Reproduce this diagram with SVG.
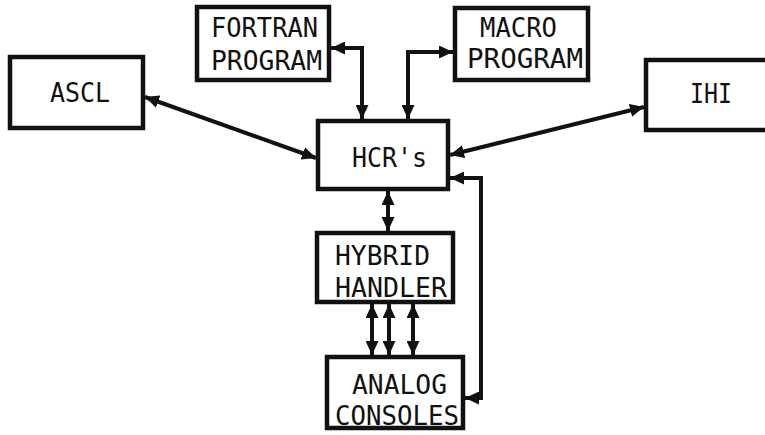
<svg xmlns="http://www.w3.org/2000/svg" width="765" height="435" viewBox="0 0 765 435">
<style>
.box{fill:#fff;stroke:#111;stroke-width:4.5}
.t{font-family:"DejaVu Sans Mono","Liberation Mono",monospace;font-size:27px;fill:#111}
.c{fill:none;stroke:#111;stroke-width:4;marker-start:url(#ah);marker-end:url(#ah)}
</style>
<defs>
<marker id="ah" markerUnits="userSpaceOnUse" markerWidth="15" markerHeight="13" refX="14" refY="6.5" orient="auto-start-reverse">
<path d="M0,0 L14,6.5 L0,13 z" fill="#111"/>
</marker>
</defs>
<rect width="765" height="435" fill="#fff"/>
<g id="fortran">
<rect class="box" x="197" y="7" width="132" height="73"/>
<text class="t" x="211" y="37" textLength="107" lengthAdjust="spacingAndGlyphs">FORTRAN</text>
<text class="t" x="211" y="70" textLength="111" lengthAdjust="spacingAndGlyphs">PROGRAM</text>
</g>
<g id="macro">
<rect class="box" x="455" y="8" width="133" height="72"/>
<text class="t" x="480" y="37" textLength="77" lengthAdjust="spacingAndGlyphs">MACRO</text>
<text class="t" x="467" y="68" textLength="116" lengthAdjust="spacingAndGlyphs">PROGRAM</text>
</g>
<g id="ascl">
<rect class="box" x="10" y="57" width="133" height="71"/>
<text class="t" x="50" y="102" textLength="60" lengthAdjust="spacingAndGlyphs">ASCL</text>
</g>
<g id="ihi">
<rect class="box" x="646" y="60" width="125" height="70"/>
<text class="t" x="690" y="103" textLength="42" lengthAdjust="spacingAndGlyphs">IHI</text>
</g>
<g id="hcr">
<rect class="box" x="318" y="121" width="130" height="68"/>
<text class="t" x="352" y="167" textLength="75" lengthAdjust="spacingAndGlyphs">HCR's</text>
</g>
<g id="hybrid">
<rect class="box" x="317" y="233" width="136" height="69"/>
<text class="t" x="335" y="265" textLength="95" lengthAdjust="spacingAndGlyphs">HYBRID</text>
<text class="t" x="335" y="297" textLength="112" lengthAdjust="spacingAndGlyphs">HANDLER</text>
</g>
<g id="analog">
<rect class="box" x="327" y="357" width="136" height="71"/>
<text class="t" x="352" y="394" textLength="95" lengthAdjust="spacingAndGlyphs">ANALOG</text>
<text class="t" x="335" y="425" textLength="124" lengthAdjust="spacingAndGlyphs">CONSOLES</text>
</g>
<g id="connectors">
<path class="c" d="M331 48 H362 V119"/>
<path class="c" d="M453 52 H408 V119"/>
<path class="c" d="M145 97 L316 158"/>
<path class="c" d="M450 155 L644 107"/>
<path class="c" d="M388 191 V231"/>
<path class="c" d="M372 304 V355"/>
<path class="c" d="M389 304 V355"/>
<path class="c" d="M413 304 V355"/>
<path class="c" d="M450 178 H481 V398 H465"/>
</g>
</svg>
